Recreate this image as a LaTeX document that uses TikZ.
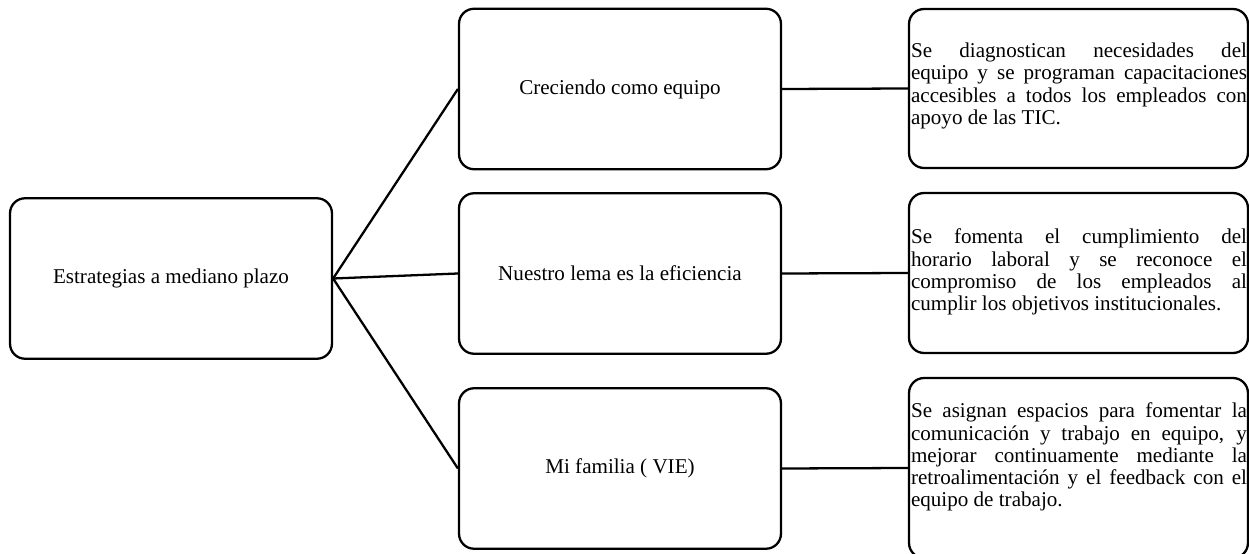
\documentclass[tikz,border=0pt]{standalone}
\usepackage{fontspec}
\setmainfont{Liberation Serif}
\newcommand\descfont{\fontsize{12}{12.6}\selectfont}
\begin{document}
\begin{tikzpicture}[x=0.02cm,y=-0.02cm,
  box/.style={draw,line width=1.3pt,rounded corners=0.3cm,inner sep=0pt,font=\fontsize{12}{14}\selectfont},
  midbox/.style={box,minimum width=6.44cm,minimum height=3.21cm},
  sidebox/.style={box,minimum width=6.78cm},
  desc/.style={text width=6.72cm,align=justify,inner sep=0pt,font=\descfont},
  link/.style={line width=1.3pt}]
\useasboundingbox (0,0) rectangle (1249,554);
\node[midbox] (L) at (171,278.5) {Estrategias a mediano plazo};
\node[midbox] (M1) at (620,89) {Creciendo como equipo};
\node[midbox] (M2) at (620,273.5) {Nuestro lema es la eficiencia};
\node[midbox] (M3) at (620,468.5) {Mi familia ( VIE)};
\node[sidebox,minimum height=3.18cm] (R1) at (1078.5,88.5) {};
\node[sidebox,minimum height=3.2cm] (R2) at (1078.5,273) {};
\node[sidebox,minimum height=3.6cm] (R3) at (1078.5,468) {};
\node[desc] (T1) at (1079,86) {Se diagnostican necesidades del\linebreak equipo y se programan capacitaciones\linebreak accesibles a todos los empleados con\linebreak apoyo de las TIC.};
\node[desc] (T2) at (1079,272) {Se fomenta el cumplimiento del\linebreak horario laboral y se reconoce el\linebreak compromiso de los empleados al\linebreak cumplir los objetivos institucionales.};
\node[desc] (T3) at (1079,457) {Se asignan espacios para fomentar la\linebreak comunicación y trabajo en equipo, y\linebreak mejorar continuamente mediante la\linebreak retroalimentación y el feedback con el\linebreak equipo de trabajo.};
\draw[link] (L.east) -- (M1.west);
\draw[link] (L.east) -- (M2.west);
\draw[link] (L.east) -- (M3.west);
\draw[link] (M1.east) -- (R1.west);
\draw[link] (M2.east) -- (R2.west);
\draw[link] (M3.east) -- (R3.west);
\end{tikzpicture}
\end{document}
